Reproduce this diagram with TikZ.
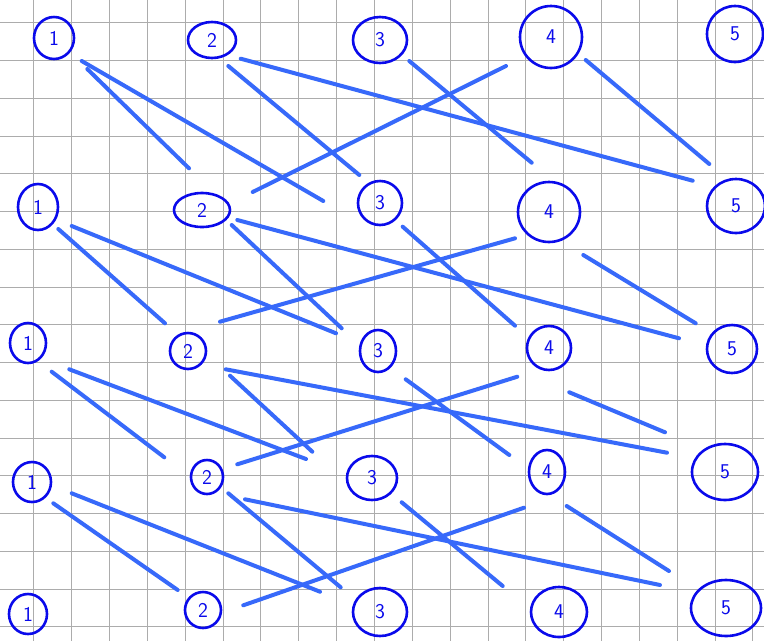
\documentclass[tikz,border=0pt]{standalone}
\usetikzlibrary{shapes.geometric}
\definecolor{gridgray}{RGB}{172,172,172}
\definecolor{inkblue}{RGB}{10,10,235}
\definecolor{penblue}{RGB}{55,105,250}
\tikzset{
  gridline/.style={draw=gridgray,line width=1.1pt},
  link/.style={draw=penblue,line width=4pt,line cap=round},
  num/.style={ellipse,draw=inkblue,line width=2.6pt,inner sep=0pt,text=inkblue,
    font=\sffamily\fontsize{21}{21}\selectfont},
}
\newcommand\numnode[6]{\node[num,minimum width=#4pt,minimum height=#5pt] (#1) at (#2,#3) {#6};}
\newcommand\linkseg[3]{\coordinate (#1s) at (#2); \coordinate (#1t) at (#3);
  \draw[link] (#1s) -- (#1t);}
\begin{document}
\begin{tikzpicture}[x=1pt,y=-1pt]
\useasboundingbox (0,0) rectangle (764,641);
\fill[white] (0,0) rectangle (764,641);
\foreach \i in {0,...,19} {\pgfmathsetmacro\gx{round(33.3+37.85*\i)+0.5}
  \draw[gridline] (\gx,0) -- (\gx,641);}
\foreach \j in {0,...,16} {\pgfmathsetmacro\gy{round(22.3+37.75*\j)+0.5}
  \draw[gridline] (0,\gy) -- (764,\gy);}
% row 1
\numnode{a1}{54}{38}{40}{42}{1}
\numnode{a2}{212}{40}{48}{36}{2}
\numnode{a3}{380}{40}{54}{46}{3}
\numnode{a4}{551}{37}{62}{62}{4}
\numnode{a5}{735}{34}{56}{56}{5}
% row 2
\numnode{b1}{38}{207}{40}{46}{1}
\numnode{b2}{202}{210}{56}{34}{2}
\numnode{b3}{380}{203}{44}{44}{3}
\numnode{b4}{549}{212}{62}{60}{4}
\numnode{b5}{736}{206}{58}{54}{5}
% row 3
\numnode{c1}{28}{343}{36}{40}{1}
\numnode{c2}{188}{351}{36}{36}{2}
\numnode{c3}{378}{351}{36}{42}{3}
\numnode{c4}{549}{348}{44}{44}{4}
\numnode{c5}{732}{349}{50}{48}{5}
% row 4
\numnode{d1}{32}{482}{38}{40}{1}
\numnode{d2}{207}{477}{32}{34}{2}
\numnode{d3}{372}{478}{50}{44}{3}
\numnode{d4}{547}{472}{36}{44}{4}
\numnode{d5}{725}{472}{66}{56}{5}
% row 5
\numnode{e1}{28}{614}{38}{40}{1}
\numnode{e2}{203}{610}{36}{36}{2}
\numnode{e3}{380}{612}{54}{48}{3}
\numnode{e4}{559}{612}{56}{50}{4}
\numnode{e5}{726}{608}{70}{56}{5}
% connectors row 1 -> row 2
\linkseg{ab12}{87.3,69}{189,168.3}
\linkseg{ab13}{81.7,61}{323.3,201}
\linkseg{ab23}{228.3,66}{359.3,175}
\linkseg{ab25}{240.7,58.7}{692.7,180.7}
\linkseg{ab34}{409.3,61}{531.7,162.7}
\linkseg{ab42}{506,66}{252.7,192}
\linkseg{ab45}{585.7,60}{709.3,164}
% row 2 -> row 3
\linkseg{bc12}{58.3,229}{165,323.3}
\linkseg{bc13}{71.7,226}{336,333.3}
\linkseg{bc23}{231.7,225}{341.7,328.3}
\linkseg{bc25}{237.3,220}{679,338.3}
\linkseg{bc34}{402.7,226.7}{515,325.7}
\linkseg{bc42}{515,238.3}{220,321.7}
\linkseg{bc45}{583.3,255}{695.7,323.3}
% row 3 -> row 4
\linkseg{cd12}{51.7,371.7}{164.3,457.3}
\linkseg{cd13}{69.3,369.3}{306,459}
\linkseg{cd23}{230,375.7}{312.3,451.7}
\linkseg{cd25}{225.7,369.3}{667,452.7}
\linkseg{cd34}{405.7,379.3}{509.3,455}
\linkseg{cd42}{517.3,376.7}{237.3,464.3}
\linkseg{cd45}{569.3,392.3}{665,432.3}
% row 4 -> row 5
\linkseg{de12}{53.3,503.3}{177.7,590}
\linkseg{de13}{71.7,493.3}{320,591.7}
\linkseg{de23}{228.3,493.3}{340.7,587.3}
\linkseg{de25}{245,499.3}{660,585}
\linkseg{de34}{401.7,502.3}{502.7,586}
\linkseg{de42}{524,507.7}{243.3,605.3}
\linkseg{de45}{566.7,506}{669,571}
\end{tikzpicture}
\end{document}
